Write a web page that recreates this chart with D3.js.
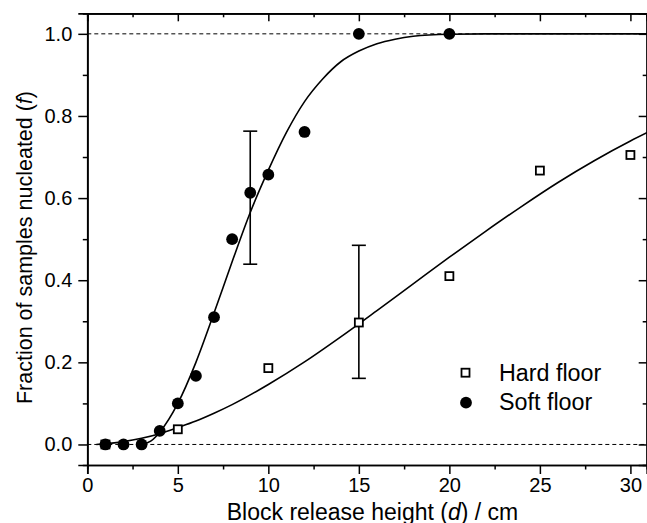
<!DOCTYPE html>
<html>
<head>
<meta charset="utf-8">
<script src="https://cdn.jsdelivr.net/npm/d3@7"></script>
<style>
  body { margin: 0; background: #fff; }
  svg { display: block; font-family: "Liberation Sans", Arial, sans-serif; }
  .axis path, .axis line { stroke: #000; }
  .axis text { fill: #000; }
</style>
</head>
<body>
<svg id="chart"></svg>
<script>
 var width = 647;
 var height = 523;

 // measured data
 const hardX = [1, 5, 10, 15, 20, 25, 30];
 const hardF = [0, 0.037, 0.186, 0.297, 0.41, 0.667, 0.705];
 const softX = [1, 2, 3, 4, 5, 6, 7, 8, 9, 10, 12, 15, 20];
 const softF = [0, 0, 0, 0.033, 0.1, 0.167, 0.31, 0.5, 0.613, 0.657, 0.761, 1.0, 1.0];

 // error bars (x, low, high)
 const hardErrX = [15];
 const hardErrLo = [0.161];
 const hardErrHi = [0.485];
 const softErrX = [9];
 const softErrLo = [0.439];
 const softErrHi = [0.763];

 // fitted curves
 const hardFitX = [0.5, 1, 2, 3, 4, 5, 6, 7, 8, 10, 12, 14, 16, 18, 20, 22, 24, 26, 28, 30, 31];
 const hardFitF = [0, 0.002, 0.007, 0.015, 0.026, 0.041, 0.057, 0.076, 0.097, 0.146, 0.201, 0.262, 0.326, 0.391, 0.456, 0.519, 0.58, 0.638, 0.691, 0.739, 0.761];
 const softFitX = [3, 3.5, 4, 5, 6, 7, 8, 9, 10, 11, 12, 13, 14, 15, 16, 17, 18, 20, 22, 31];
 const softFitF = [0, 0.008, 0.03, 0.1, 0.2, 0.32, 0.445, 0.565, 0.668, 0.76, 0.835, 0.89, 0.932, 0.958, 0.976, 0.987, 0.994, 0.999, 1, 1];

 const xMajor = [0, 5, 10, 15, 20, 25, 30];
 const xMinor = [2.5, 7.5, 12.5, 17.5, 22.5, 27.5];
 const yMajor = [0, 0.2, 0.4, 0.6, 0.8, 1.0];
 const yMinor = [0.1, 0.3, 0.5, 0.7, 0.9];
 const refLines = [0, 1];

 const legendLabels = ["Hard floor", "Soft floor"];

 const svg = d3.select("#chart")
   .attr("width", width)
   .attr("height", height);

 const x = d3.scaleLinear().domain([0, 30.9]).range([87.3, 646.7]);
 const y = d3.scaleLinear().domain([-0.05, 1.05]).range([465, 13.3]);

 const x0 = x.range()[0], x1 = x.range()[1];
 const y0 = y.range()[0], y1 = y.range()[1];

 // dashed reference lines
 svg.selectAll(".ref")
   .data(refLines)
   .enter()
   .append("line")
   .attr("x1", x0).attr("x2", x1)
   .attr("y1", d => y(d)).attr("y2", d => y(d))
   .attr("stroke", "#000")
   .attr("stroke-width", 1)
   .attr("stroke-dasharray", "4,3");

 // axes
 const fmtY = d3.format(".1f");
 const tickFont = "20px";

 svg.append("g").attr("class", "axis")
   .attr("transform", `translate(0,${y0})`)
   .call(d3.axisBottom(x).tickValues(xMajor).tickSize(9).tickPadding(4).tickFormat(d3.format("d")))
   .call(g => g.selectAll("text").style("font-size", tickFont));
 svg.append("g").attr("class", "axis")
   .attr("transform", `translate(0,${y0})`)
   .call(d3.axisBottom(x).tickValues(xMinor).tickSize(4.5).tickFormat(""));

 svg.append("g").attr("class", "axis")
   .attr("transform", `translate(0,${y1})`)
   .call(d3.axisTop(x).tickValues(xMajor).tickSize(-8).tickFormat(""));
 svg.append("g").attr("class", "axis")
   .attr("transform", `translate(0,${y1})`)
   .call(d3.axisTop(x).tickValues(xMinor).tickSize(-4).tickFormat(""));

 svg.append("g").attr("class", "axis")
   .attr("transform", `translate(${x0},0)`)
   .call(d3.axisLeft(y).tickValues(yMajor).tickSize(9).tickPadding(6).tickFormat(fmtY))
   .call(g => g.selectAll("text").style("font-size", tickFont));
 svg.append("g").attr("class", "axis")
   .attr("transform", `translate(${x0},0)`)
   .call(d3.axisLeft(y).tickValues(yMinor).tickSize(4.5).tickFormat(""));

 svg.append("g").attr("class", "axis")
   .attr("transform", `translate(${x1},0)`)
   .call(d3.axisRight(y).tickValues(yMajor).tickSize(-8).tickFormat(""));
 svg.append("g").attr("class", "axis")
   .attr("transform", `translate(${x1},0)`)
   .call(d3.axisRight(y).tickValues(yMinor).tickSize(-4).tickFormat(""));

 svg.selectAll(".axis path").attr("stroke-width", 1.7);
 svg.selectAll(".axis line").attr("stroke-width", 1.5);

 // fit curves
 const line = d3.line()
   .x(d => x(d[0]))
   .y(d => y(d[1]))
   .curve(d3.curveMonotoneX);

 svg.append("path")
   .datum(hardFitX.map((d, i) => [d, hardFitF[i]]))
   .attr("d", line)
   .attr("fill", "none")
   .attr("stroke", "#000")
   .attr("stroke-width", 1.6);

 svg.append("path")
   .datum(softFitX.map((d, i) => [d, softFitF[i]]))
   .attr("d", line)
   .attr("fill", "none")
   .attr("stroke", "#000")
   .attr("stroke-width", 1.6);

 // error bars
 const errData = hardErrX.map((d, i) => ({x: d, lo: hardErrLo[i], hi: hardErrHi[i]}))
   .concat(softErrX.map((d, i) => ({x: d, lo: softErrLo[i], hi: softErrHi[i]})));
 const cap = 7;
 const err = svg.selectAll(".err")
   .data(errData)
   .enter()
   .append("g")
   .attr("stroke", "#000")
   .attr("stroke-width", 1.6);
 err.append("line")
   .attr("x1", d => x(d.x)).attr("x2", d => x(d.x))
   .attr("y1", d => y(d.lo)).attr("y2", d => y(d.hi));
 err.append("line")
   .attr("x1", d => x(d.x) - cap).attr("x2", d => x(d.x) + cap)
   .attr("y1", d => y(d.lo)).attr("y2", d => y(d.lo));
 err.append("line")
   .attr("x1", d => x(d.x) - cap).attr("x2", d => x(d.x) + cap)
   .attr("y1", d => y(d.hi)).attr("y2", d => y(d.hi));

 // markers
 const sq = 8;
 svg.selectAll(".hard")
   .data(hardX.map((d, i) => [d, hardF[i]]))
   .enter()
   .append("rect")
   .attr("x", d => x(d[0]) - sq / 2)
   .attr("y", d => y(d[1]) - sq / 2)
   .attr("width", sq).attr("height", sq)
   .attr("fill", "#fff")
   .attr("stroke", "#000")
   .attr("stroke-width", 1.8);

 svg.selectAll(".soft")
   .data(softX.map((d, i) => [d, softF[i]]))
   .enter()
   .append("circle")
   .attr("cx", d => x(d[0]))
   .attr("cy", d => y(d[1]))
   .attr("r", 5.9)
   .attr("fill", "#000");

 // legend
 const legend = svg.append("g");
 legend.append("rect")
   .attr("x", 465.5 - sq / 2).attr("y", 372.7 - sq / 2)
   .attr("width", sq).attr("height", sq)
   .attr("fill", "#fff").attr("stroke", "#000").attr("stroke-width", 1.8);
 legend.append("circle")
   .attr("cx", 466).attr("cy", 402.7).attr("r", 5.9).attr("fill", "#000");
 legend.selectAll("text")
   .data(legendLabels)
   .enter()
   .append("text")
   .attr("x", 499)
   .attr("y", (d, i) => 380.5 + i * 29.5)
   .style("font-size", "23.3px")
   .text(d => d);

 // axis titles
 const xt = svg.append("text")
   .attr("x", 372.5)
   .attr("y", 519.5)
   .attr("text-anchor", "middle")
   .style("font-size", "23px");
 xt.append("tspan").text("Block release height (");
 xt.append("tspan").style("font-style", "italic").text("d");
 xt.append("tspan").text(") / cm");

 const yt = svg.append("text")
   .attr("transform", "translate(32,247.5) rotate(-90)")
   .attr("text-anchor", "middle")
   .style("font-size", "21.5px");
 yt.append("tspan").text("Fraction of samples nucleated (");
 yt.append("tspan").style("font-style", "italic").text("f");
 yt.append("tspan").text(")");
</script>
</body>
</html>
